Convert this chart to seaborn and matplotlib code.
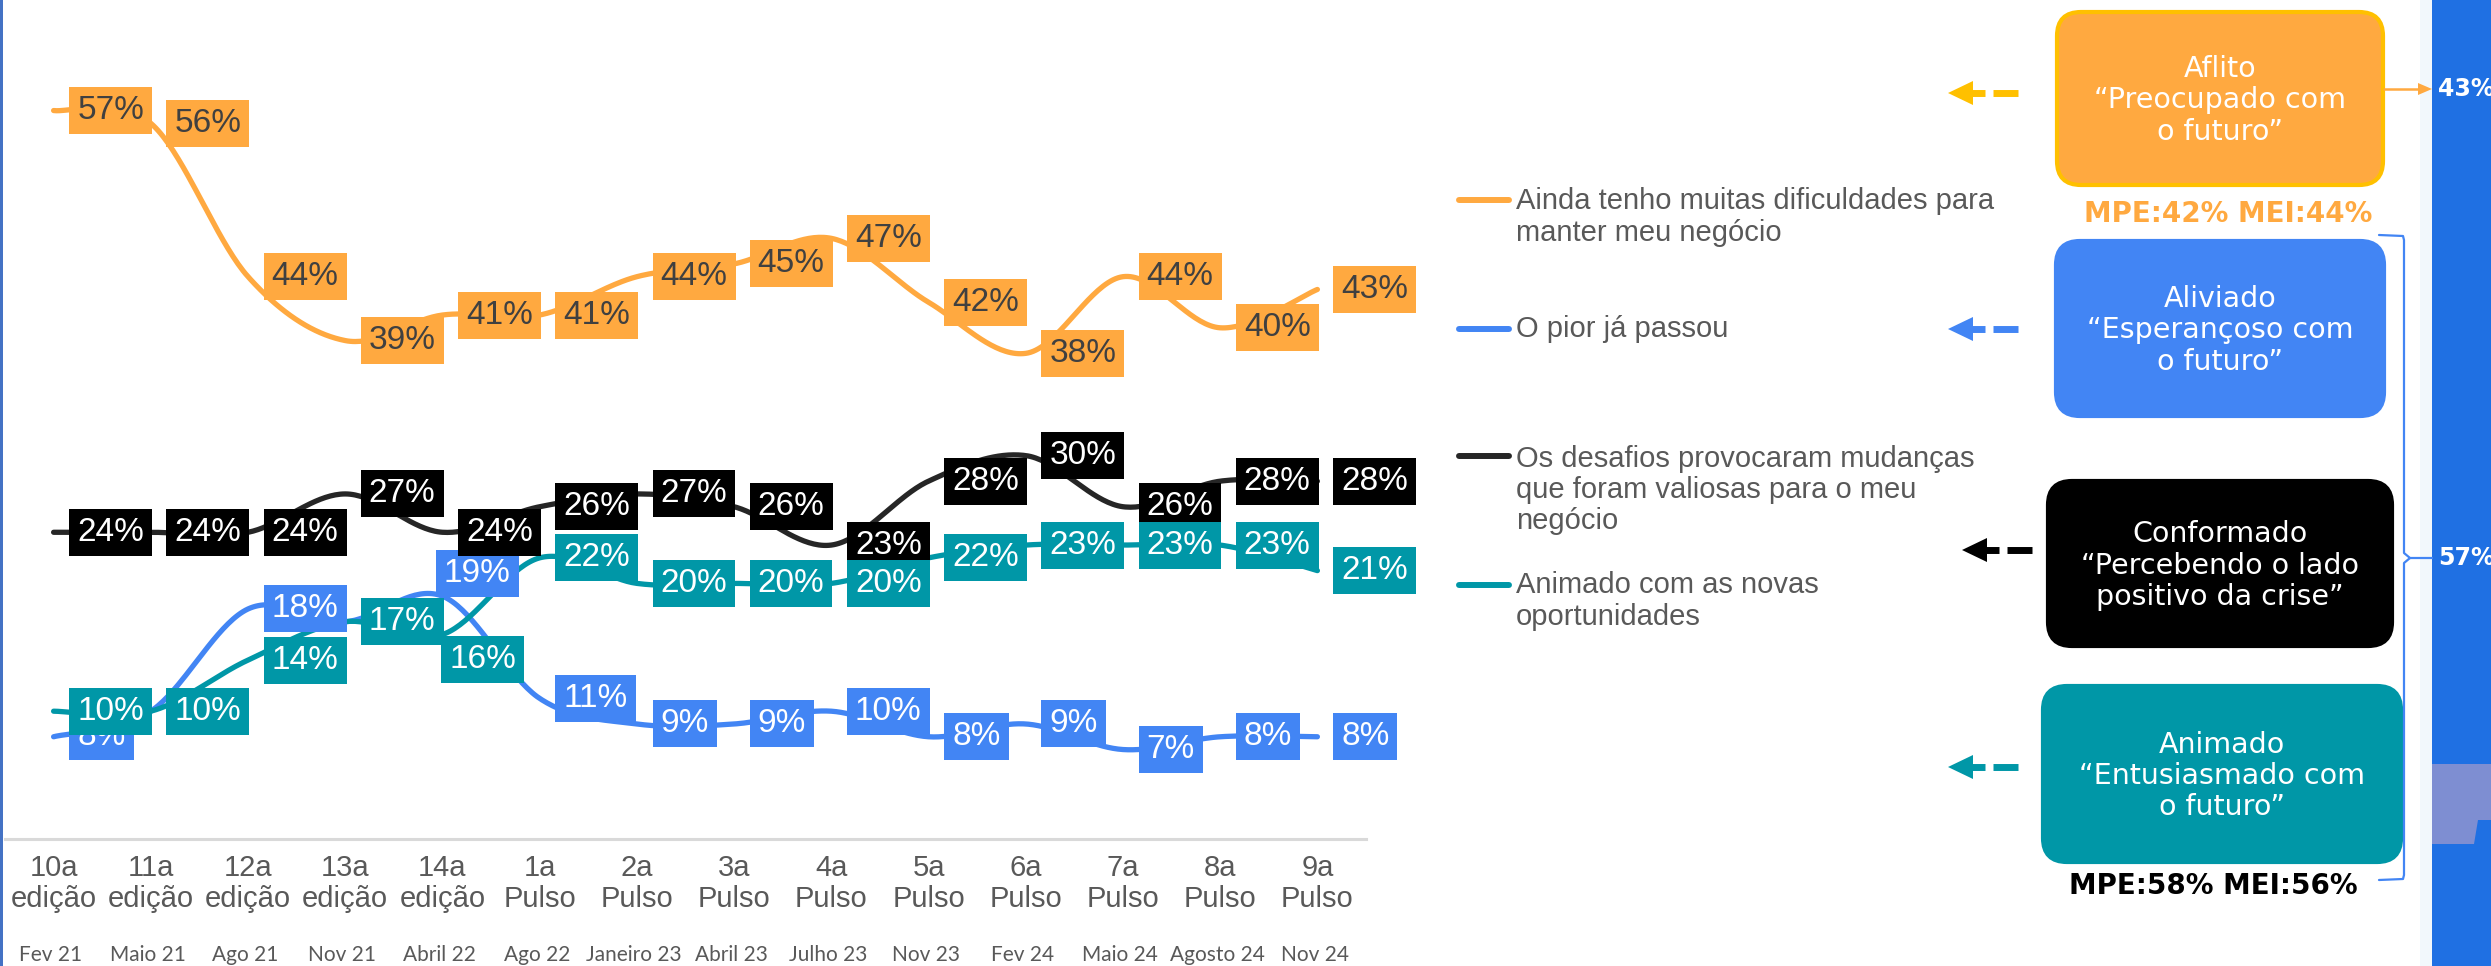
import numpy as np
import pandas as pd
import seaborn as sns
import matplotlib.pyplot as plt
from matplotlib.patches import FancyBboxPatch, Polygon, Rectangle

# categories
editions = ["10a", "11a", "12a", "13a", "14a", "1a", "2a", "3a", "4a", "5a", "6a", "7a", "8a", "9a"]
kinds = ["edição"] * 5 + ["Pulso"] * 9
dates = ["Fev 21", "Maio 21", "Ago 21", "Nov 21", "Abril 22", "Ago 22", "Janeiro 23",
         "Abril 23", "Julho 23", "Nov 23", "Fev 24", "Maio 24", "Agosto 24", "Nov 24"]

# series values (%)
dificuldades = [57, 56, 44, 39, 41, 41, 44, 45, 47, 42, 38, 44, 40, 43]
pior_passou = [8, 10, 18, 17, 19, 11, 9, 9, 10, 8, 9, 7, 8, 8]
desafios = [24, 24, 24, 27, 24, 26, 27, 26, 23, 28, 30, 26, 28, 28]
animado = [10, 10, 14, 17, 16, 22, 20, 20, 20, 22, 23, 23, 23, 21]

legend_labels = ["Ainda tenho muitas dificuldades para\nmanter meu negócio",
                 "O pior já passou",
                 "Os desafios provocaram mudanças\nque foram valiosas para o meu\nnegócio",
                 "Animado com as novas\noportunidades"]

ORANGE, BLUE, BLACK, TEAL = "#FFA940", "#4285F4", "#000000", "#0097A7"
GREY = "#595959"

series = [
    ("dificuldades", dificuldades, ORANGE, ORANGE, "#404040"),
    ("pior_passou", pior_passou, BLUE, BLUE, "white"),
    ("desafios", desafios, BLACK, "#262626", "white"),
    ("animado", animado, TEAL, TEAL, "white"),
]

# label nudges where Excel labels were moved by hand (points)
nudge = {("pior_passou", 4): (-16, 16), ("animado", 4): (-12, -18)}


def smooth(yv, n=40):
    # Catmull-Rom curve through the points, like Excel's smoothed line
    p = np.column_stack([np.arange(len(yv)), yv]).astype(float)
    out = []
    for i in range(len(p) - 1):
        p0 = p[i - 1] if i > 0 else p[i]
        p1, p2 = p[i], p[i + 1]
        p3 = p[i + 2] if i + 2 < len(p) else p[i + 1]
        t = np.linspace(0, 1, n)[:, None]
        seg = 0.5 * (2 * p1 + (-p0 + p2) * t + (2 * p0 - 5 * p1 + 4 * p2 - p3) * t ** 2
                     + (-p0 + 3 * p1 - 3 * p2 + p3) * t ** 3)
        out.append(seg if i == 0 else seg[1:])
    out = np.vstack(out)
    return out[:, 0], out[:, 1]


sns.set_theme(style="white")
plt.rcParams["font.family"] = ["Liberation Sans", "DejaVu Sans"]

W, H = 2491, 966
fig = plt.figure(figsize=(W / 100, H / 100), dpi=100)
ax = fig.add_axes([5 / W, (H - 839) / H, 1361 / W, 839 / H])

for k, (name, vals, col, lcol, tcol) in enumerate(series):
    xs, ys = smooth(vals)
    sns.lineplot(x=xs, y=ys, sort=False, estimator=None, color=lcol, lw=3.8,
                 ax=ax, zorder=2 + k * 0.1, solid_capstyle="round")

for k, (name, vals, col, lcol, tcol) in enumerate(series):
    for i, v in enumerate(vals):
        dx, dy = nudge.get((name, i), (0, 0))
        ax.annotate(f"{v}%", (i, v), xytext=(17 + dx, dy), textcoords="offset points",
                    ha="left", va="center", fontsize=24, color=tcol, zorder=5 + k,
                    bbox=dict(boxstyle="square,pad=0.24", fc=col, ec="none"))

ax.set_xlim(-0.5, 13.5)
ax.set_ylim(0, 839 / 12.78)
ax.set_yticks([])
ax.set_xticks(range(len(editions)))
ax.set_xticklabels([f"{e}\n{kd}" for e, kd in zip(editions, kinds)], fontsize=21,
                   color=GREY, linespacing=1.12)
ax.tick_params(axis="x", length=0, pad=11)
for s in ["top", "left", "right"]:
    ax.spines[s].set_visible(False)
ax.spines["bottom"].set_color("#D9D9D9")
ax.spines["bottom"].set_linewidth(2.2)
ax.set_facecolor("none")
for i, d in enumerate(dates):
    ax.annotate(d, (i, 0), xycoords=("data", "axes fraction"), xytext=(-2, -83.5),
                textcoords="offset points", ha="center", va="center", fontsize=15,
                color=GREY, family=["Lato", "DejaVu Sans"])

# overlay in pixel coordinates for legend and the right-hand panel
ov = fig.add_axes([0, 0, 1, 1], zorder=10)
ov.set_xlim(0, W)
ov.set_ylim(H, 0)
ov.axis("off")
ov.patch.set_alpha(0)

ov.add_patch(Rectangle((0, 0), 3, H, color="#4472C4", lw=0))

# legend
leg_line_y = [200, 329, 456, 585]
leg_text_y = [217, 329, 490, 601]
for (name, vals, col, lcol, tcol), lab, ly, ty in zip(series, legend_labels, leg_line_y, leg_text_y):
    ov.plot([1459, 1509], [ly, ly], color=lcol, lw=4.3, solid_capstyle="round")
    ov.text(1516, ty, lab, fontsize=21, color=GREY, ha="left", va="center", linespacing=1.15)

# right blue panel
ov.add_patch(Rectangle((2420, 0), 12, H, color="#F2F8FC", lw=0))
ov.add_patch(Rectangle((2432, 0), W - 2432, H, color="#1F70E3", lw=0))
ov.add_patch(Rectangle((2432, 764), W - 2432, 80, color="#7E8ED2", lw=0))
ov.add_patch(Polygon([(2478, 820), (2491, 820), (2491, 844), (2474, 844)], color="#1F70E3", lw=0))

# mood boxes
boxes = [
    ("Aflito\n“Preocupado com\no futuro”", ORANGE, "#FFC000", (2057, 12, 2383, 185), 93, "#FFC000"),
    ("Aliviado\n“Esperançoso com\no futuro”", BLUE, BLUE, (2056, 241, 2384, 416), 329, BLUE),
    ("Conformado\n“Percebendo o lado\npositivo da crise”", BLACK, BLACK, (2048, 481, 2392, 646), 550, BLACK),
    ("Animado\n“Entusiasmado com\no futuro”", TEAL, TEAL, (2043, 686, 2401, 862), 767, TEAL),
]
for txt, fc, ec, (x0, y0, x1, y1), ay, acol in boxes:
    ov.add_patch(FancyBboxPatch((x0 + 24, y0 + 24), x1 - x0 - 48, y1 - y0 - 48,
                                boxstyle="round,pad=24", fc=fc, ec=ec, lw=3))
    ov.text((x0 + x1) / 2, (y0 + y1) / 2 + 2, txt, ha="center", va="center", color="white",
            fontsize=20.5, family=["DejaVu Sans"], linespacing=1.15)
    # dashed arrow pointing back to the chart
    ax0 = 1948 if fc != BLACK else 1962
    ov.add_patch(Polygon([(ax0, ay), (ax0 + 25, ay - 12), (ax0 + 25, ay + 12)], color=acol, lw=0))
    ov.plot([ax0 + 20, ax0 + 37], [ay, ay], color=acol, lw=5, solid_capstyle="butt")
    ov.plot([ax0 + 45, ax0 + 70], [ay, ay], color=acol, lw=5, solid_capstyle="butt")

ov.text(2228, 214, "MPE:42% MEI:44%", ha="center", va="center", fontsize=20,
        weight="bold", color=ORANGE, family=["DejaVu Sans"])
ov.text(2213, 886, "MPE:58% MEI:56%", ha="center", va="center", fontsize=20,
        weight="bold", color="black", family=["DejaVu Sans"])

# arrow to 43%
ov.plot([2384, 2420], [89, 89], color=ORANGE, lw=1.8)
ov.add_patch(Polygon([(2432, 89), (2418, 83), (2418, 95)], color=ORANGE, lw=0))
ov.text(2438, 89, "43%", ha="left", va="center", fontsize=17, weight="bold",
        color="white", family=["DejaVu Sans"])

# bracket to 57%
ov.plot([2379, 2403, 2404, 2404, 2410, 2432], [235, 236, 240, 553, 558, 558], color=BLUE, lw=1.6)
ov.plot([2379, 2403, 2404, 2404, 2410], [880, 879, 875, 563, 558], color=BLUE, lw=1.6)
ov.text(2438, 558, "57%", ha="left", va="center", fontsize=17, weight="bold",
        color="white", family=["DejaVu Sans"])

fig.savefig("out.png", dpi=100)
